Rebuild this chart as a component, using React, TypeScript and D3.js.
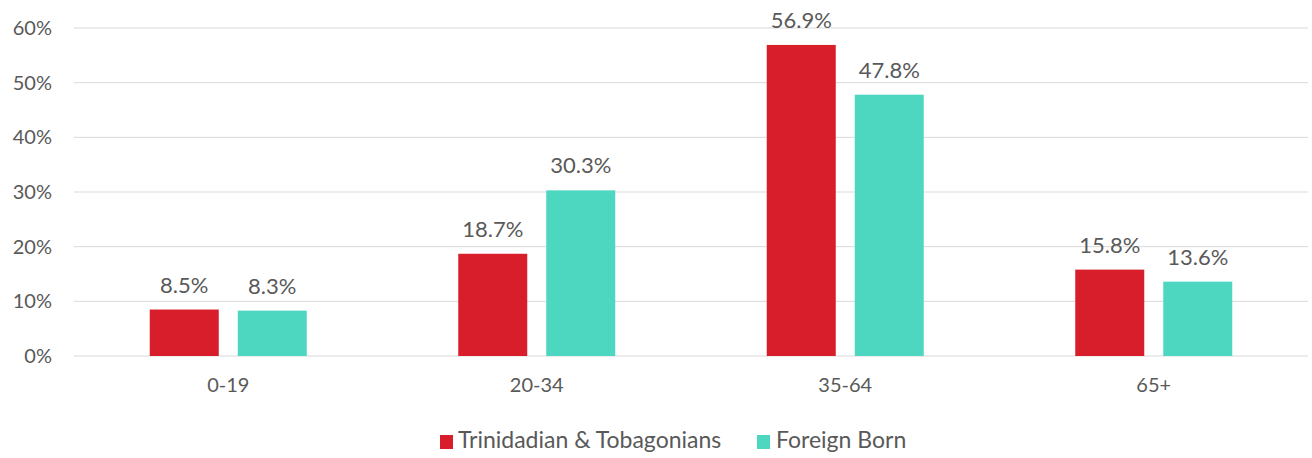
import React from "react";
import * as d3 from "d3";

const categories = ["0-19", "20-34", "35-64", "65+"];
const seriesNames = ["Trinidadian & Tobagonians", "Foreign Born"];
const trinidad = [8.5, 18.7, 56.9, 15.8];
const foreign = [8.3, 30.3, 47.8, 13.6];
const yTicks = [0, 10, 20, 30, 40, 50, 60];
const colors = ["#D71E2A", "#4DD7C1"];

const W = 1312;
const H = 458;
const FONT = "Lato, Carlito, Calibri, sans-serif";
const TEXT = "#595959";
const FS = 20;
const VFS = 22;
const LFS = 23;

export default function App() {
  const left = 74;
  const right = 1308;
  const top = 28;
  const bottom = 356;
  const x = d3.scaleBand<string>().domain(categories).range([left, right]).padding(0);
  const y = d3.scaleLinear().domain([0, 60]).range([bottom, top]);
  const bw = 69;
  const gap = 19;
  const series = [trinidad, foreign];

  return (
    <svg width={W} height={H} style={{ position: "absolute", left: 0, top: 0, background: "#fff" }}>
      {yTicks.map((t) => (
        <g key={t}>
          <line x1={left} x2={right} y1={y(t)} y2={y(t)} stroke="#D9D9D9" strokeWidth={1} />
          <text x={52} y={y(t)} dy="0.35em" textAnchor="end" fontFamily={FONT} fontSize={FS} fill={TEXT}>
            {t}%
          </text>
        </g>
      ))}
      {categories.map((c, i) => {
        const cx = (x(c) as number) + x.bandwidth() / 2;
        return (
          <g key={c}>
            {series.map((s, k) => {
              const bx = k === 0 ? cx - gap / 2 - bw : cx + gap / 2;
              const v = s[i];
              return (
                <g key={k}>
                  <rect x={bx} y={y(v)} width={bw} height={y(0) - y(v)} fill={colors[k]} />
                  <text x={bx + bw / 2} y={y(v) - 17} textAnchor="middle" fontFamily={FONT} fontSize={VFS} fill={TEXT}>
                    {v.toFixed(1)}%
                  </text>
                </g>
              );
            })}
            <text x={cx} y={392} textAnchor="middle" fontFamily={FONT} fontSize={FS} fill={TEXT}>
              {c}
            </text>
          </g>
        );
      })}
      <g>
        <rect x={440} y={435} width={13} height={14} fill={colors[0]} />
        <text x={458} y={448} fontFamily={FONT} fontSize={LFS} fill={TEXT}>{seriesNames[0]}</text>
        <rect x={757} y={435} width={13} height={14} fill={colors[1]} />
        <text x={776} y={448} fontFamily={FONT} fontSize={LFS} fill={TEXT}>{seriesNames[1]}</text>
      </g>
    </svg>
  );
}
